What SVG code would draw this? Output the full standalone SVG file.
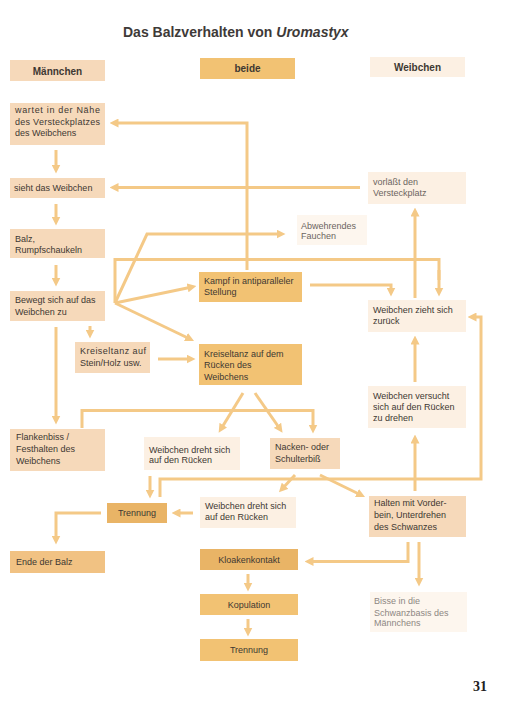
<svg xmlns="http://www.w3.org/2000/svg" width="510" height="716" viewBox="0 0 510 716">
<defs>
<marker id="ah" viewBox="0 0 10 10" refX="5" refY="5" markerWidth="9" markerHeight="9" markerUnits="userSpaceOnUse" orient="auto">
<path d="M0,0 L10,5 L0,10 z" fill="#f4c987"/>
</marker>
<style>
.t{font-family:"Liberation Sans",Arial,sans-serif;font-size:9px;fill:#3e3832}
.tl{font-family:"Liberation Sans",Arial,sans-serif;font-size:9px;fill:#6c655f}
.tv{font-family:"Liberation Sans",Arial,sans-serif;font-size:9px;fill:#8d8783}
.h{font-family:"Liberation Sans",Arial,sans-serif;font-size:10px;font-weight:bold;fill:#3e3832;text-anchor:middle}
.c{text-anchor:middle}
.m{fill:#f6d9ba}
.b{fill:#f2c273}
.d{fill:#e9b466}
.w{fill:#fcf0e3}
.f{fill:#fdf6ee}
.o{fill:#f1c283}
.conn path{fill:none;stroke:#f4c987;stroke-width:3;marker-end:url(#ah)}
.conn path.n{marker-end:none}
</style>
</defs>
<rect width="510" height="716" fill="#ffffff"/>
<text x="123" y="37" font-family="Liberation Sans,Arial,sans-serif" font-size="14" font-weight="bold" fill="#3e3a38">Das Balzverhalten von <tspan font-style="italic">Uromastyx</tspan></text>

<g id="hdr-maennchen"><rect class="m" x="10" y="60" width="95" height="21"/><text class="h" x="57.5" y="74.5">Männchen</text></g>
<g id="hdr-beide"><rect class="b" x="200" y="58" width="95" height="21"/><text class="h" x="247.5" y="72">beide</text></g>
<g id="hdr-weibchen"><rect class="w" x="370" y="57" width="95" height="20"/><text class="h" x="417.5" y="70.5">Weibchen</text></g>

<g class="conn" id="connectors">
<path d="M247,270 L247,123 L114,123"/>
<path d="M360,187.5 L114,187.5"/>
<path d="M415,298 L415,212"/>
<path d="M115,303 L147,234 L281,234"/>
<path class="n" d="M115,303 L115,259.5 L439,259.5 L439,280"/>
<path d="M439,270 L439,292"/>
<path d="M115,303 L192,287"/>
<path d="M115,303 L190,339"/>
<path d="M158,359 L191,359"/>
<path d="M310,285 L391,285 L391,292"/>
<path d="M415,382 L415,340"/>
<path d="M415,491 L415,439"/>
<path d="M243,393 L221,429"/>
<path d="M255,393 L280,429"/>
<path d="M82,428 L82,410.5 L313,410.5 L313,429"/>
<path d="M150,476 L150,494"/>
<path d="M160,497 L160,479 L481,479 L481,317 L472,317"/>
<path d="M295,475 L282,489"/>
<path d="M320,475 L361,495"/>
<path d="M193,513 L176,513"/>
<path d="M101,513 L56,513 L56,540"/>
<path d="M408,542 L408,561.5 L309,561.5"/>
<path d="M419,542 L419,582"/>
<path d="M248,574 L248,587"/>
<path d="M248,619 L248,632"/>
<path d="M56,150 L56,169"/>
<path d="M56,204 L56,221"/>
<path d="M56,265 L56,282"/>
<path d="M90,326 L90,334"/>
<path d="M56,327 L56,420"/>
</g>

<g id="wartet"><rect class="m" x="10" y="103" width="95" height="42"/>
<text class="t" x="15" y="113" textLength="85" lengthAdjust="spacing">wartet in der Nähe</text>
<text class="t" x="15" y="124.5" textLength="85" lengthAdjust="spacing">des Versteckplatzes</text>
<text class="t" x="15" y="136">des Weibchens</text></g>

<g id="sieht"><rect class="m" x="10" y="178" width="95" height="20"/><text class="t" x="14" y="191">sieht das Weibchen</text></g>

<g id="balz"><rect class="m" x="10" y="229" width="95" height="29"/><text class="t" x="15" y="241.5">Balz,</text><text class="t" x="15" y="252.5">Rumpfschaukeln</text></g>

<g id="bewegt"><rect class="m" x="10" y="291" width="95" height="30"/><text class="t" x="15" y="303">Bewegt sich auf das</text><text class="t" x="15" y="314.5">Weibchen zu</text></g>

<g id="kreisel-stein"><rect class="m" x="75" y="342" width="75" height="31"/><text class="t" x="80" y="354" textLength="66" lengthAdjust="spacing">Kreiseltanz auf</text><text class="t" x="80" y="366">Stein/Holz usw.</text></g>

<g id="flankenbiss"><rect class="m" x="10" y="429" width="95" height="42"/><text class="t" x="16" y="440">Flankenbiss /</text><text class="t" x="16" y="452">Festhalten des</text><text class="t" x="16" y="464">Weibchens</text></g>

<g id="trennung1"><rect class="d" x="107" y="503" width="60" height="20"/><text class="t c" x="137" y="516">Trennung</text></g>

<g id="ende"><rect class="o" x="10" y="551" width="95" height="22"/><text class="t" x="16" y="565">Ende der Balz</text></g>

<g id="kampf"><rect class="b" x="199" y="272" width="103" height="30"/><text class="t" x="204" y="284">Kampf in antiparalleler</text><text class="t" x="204" y="294.5">Stellung</text></g>

<g id="kreisel-ruecken"><rect class="b" x="199" y="344" width="103" height="41"/><text class="t" x="204" y="356.5">Kreiseltanz auf dem</text><text class="t" x="204" y="368">Rücken des</text><text class="t" x="204" y="380">Weibchens</text></g>

<g id="dreht1"><rect class="w" x="144" y="437" width="96" height="33"/><text class="t" x="149" y="452.5">Weibchen dreht sich</text><text class="t" x="149" y="463">auf den Rücken</text></g>

<g id="nacken"><rect class="m" x="270" y="438" width="70" height="31"/><text class="t" x="275" y="450">Nacken- oder</text><text class="t" x="275" y="461.5">Schulterbiß</text></g>

<g id="dreht2"><rect class="w" x="200" y="497" width="96" height="31"/><text class="t" x="205" y="509">Weibchen dreht sich</text><text class="t" x="205" y="520">auf den Rücken</text></g>

<g id="kloaken"><rect class="d" x="200" y="549" width="98" height="21"/><text class="t c" x="249" y="563">Kloakenkontakt</text></g>

<g id="kopulation"><rect class="b" x="200" y="594" width="98" height="21"/><text class="t c" x="249" y="607.5">Kopulation</text></g>

<g id="trennung2"><rect class="b" x="200" y="639" width="98" height="22"/><text class="t c" x="249" y="653">Trennung</text></g>

<g id="verlaesst"><rect class="w" x="368" y="172" width="98" height="32"/><text class="tl" x="373" y="185">vorläßt den</text><text class="tl" x="373" y="196">Versteckplatz</text></g>

<g id="fauchen"><rect class="f" x="297" y="215" width="70" height="30"/><text class="tl" x="301" y="228.5">Abwehrendes</text><text class="tl" x="301" y="239">Fauchen</text></g>

<g id="zieht"><rect class="w" x="368" y="300" width="98" height="32"/><text class="t" x="373" y="312.5">Weibchen zieht sich</text><text class="t" x="373" y="324">zurück</text></g>

<g id="versucht"><rect class="w" x="368" y="386" width="98" height="42"/><text class="t" x="373" y="399">Weibchen versucht</text><text class="t" x="373" y="410">sich auf den Rücken</text><text class="t" x="373" y="421">zu drehen</text></g>

<g id="halten"><rect class="m" x="369" y="496" width="97" height="41"/><text class="t" x="374" y="506">Halten mit Vorder-</text><text class="t" x="374" y="518">bein, Unterdrehen</text><text class="t" x="374" y="530">des Schwanzes</text></g>

<g id="bisse"><rect class="f" x="370" y="592" width="97" height="40"/><text class="tv" x="374" y="604">Bisse in die</text><text class="tv" x="374" y="615.5">Schwanzbasis des</text><text class="tv" x="374" y="626">Männchens</text></g>

<text x="473" y="691" font-family="Liberation Serif,Times New Roman,serif" font-size="14" font-weight="bold" fill="#222">31</text>
</svg>
